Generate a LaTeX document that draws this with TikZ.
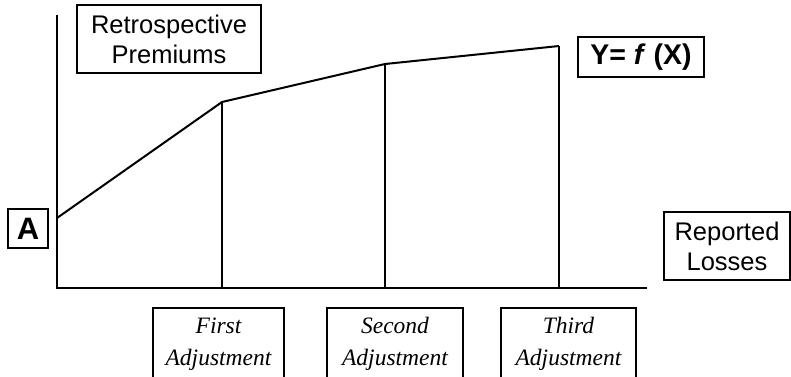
\documentclass[tikz,border=0pt]{standalone}
\usepackage{fontspec}
\setmainfont{Liberation Serif}
\setsansfont{Liberation Sans}
\begin{document}
\begin{tikzpicture}[x=1pt,y=-1pt,
  line/.style={line width=1.7pt},
  curve/.style={line width=2pt, line join=round},
  thin/.style={line width=1.3pt},
  sbox/.style={draw, line width=1.5pt, inner sep=0pt, align=center, font=\sffamily\fontsize{25.5}{30}\selectfont},
  abox/.style={draw, line width=1.5pt, inner sep=0pt, align=center, font=\itshape\fontsize{23.5}{32}\selectfont}]
\useasboundingbox (0,0) rectangle (791,376);
% axes
\coordinate (ytop) at (57,15);
\coordinate (orig) at (57,288);
\coordinate (xend) at (647,288);
\draw[line] (ytop) -- (orig) -- (xend);
% curve
\coordinate (p0) at (57,218);
\coordinate (p1) at (222,102);
\coordinate (p2) at (385,64);
\coordinate (p3) at (559,46);
\coordinate (q1) at (222,288);
\coordinate (q2) at (385,288);
\coordinate (q3) at (559,288);
\draw[curve] (p0) -- (p1) -- (p2) -- (p3);
\draw[thin] (p1) -- (q1);
\draw[thin] (p2) -- (q2);
\draw[thin] (p3) -- (q3);
% labels
\node[sbox, minimum width=184pt, minimum height=68pt] (retro) at (169,39) {Retrospective\\Premiums};
\node[sbox, minimum width=126pt, minimum height=40pt, font=\sffamily\bfseries\fontsize{28.5}{30}\selectfont] (yfx) at (641,57) {Y= \textit{f} (X)};
\node[sbox, minimum width=40pt, minimum height=39pt, font=\sffamily\bfseries\fontsize{31}{30}\selectfont] (a) at (28,228.5) {A};
\node[sbox, minimum width=126pt, minimum height=68pt] (rep) at (727,246) {Reported\\Losses};
\node[abox, minimum width=131pt, minimum height=72pt] (adj1) at (218.5,344) {First\\Adjustment};
\node[abox, minimum width=136pt, minimum height=72pt] (adj2) at (395,344) {Second\\Adjustment};
\node[abox, minimum width=135pt, minimum height=72pt] (adj3) at (568.5,344) {Third\\Adjustment};
\end{tikzpicture}
\end{document}
